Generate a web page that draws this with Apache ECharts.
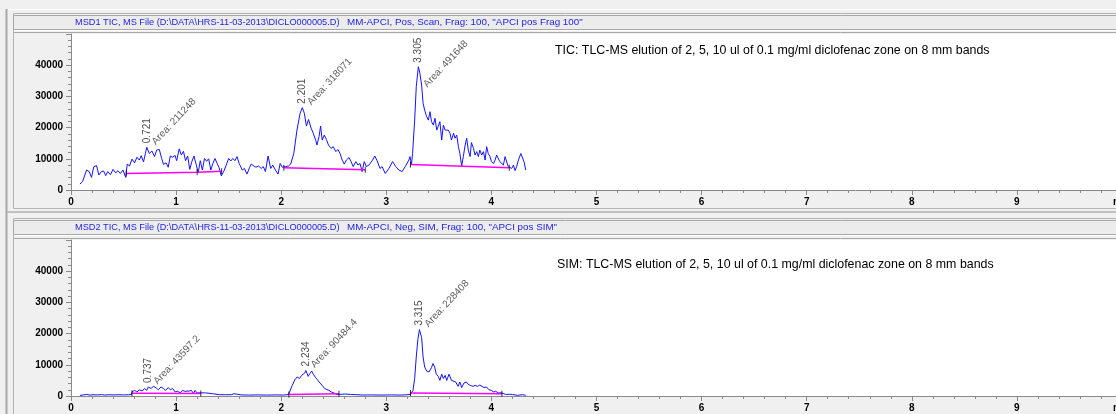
<!DOCTYPE html>
<html><head><meta charset="utf-8">
<script src="https://cdn.jsdelivr.net/npm/echarts@6/dist/echarts.min.js"></script>
<style>html,body{margin:0;padding:0;background:#f0f0f0;overflow:hidden;} #c{width:1116px;height:414px;}</style>
</head><body><div id="c"></div>
<script>
// ---------- DATA ----------
const xTickLabels = ['0','1','2','3','4','5','6','7','8','9','min'];
const yTickLabels = ['0','10000','20000','30000','40000'];

const ticTime = [0.085,0.11,0.148,0.173,0.195,0.217,0.243,0.265,0.29,0.31,0.33,0.35,0.375,0.40,0.425,0.447,0.47,0.495,0.52,0.535,0.557,0.58,0.605,0.627,0.65,0.668,0.69,0.708,0.721,0.745,0.77,0.795,0.815,0.84,0.863,0.88,0.905,0.925,0.945,0.967,0.99,1.005,1.03,1.05,1.07,1.09,1.11,1.13,1.15,1.17,1.19,1.21,1.23,1.25,1.27,1.29,1.31,1.33,1.35,1.37,1.39,1.41,1.43,1.455,1.477,1.50,1.52,1.54,1.56,1.58,1.60,1.63,1.65,1.675,1.70,1.715,1.74,1.76,1.785,1.81,1.83,1.85,1.875,1.90,1.92,1.945,1.97,1.99,2.01,2.04,2.07,2.09,2.12,2.15,2.18,2.201,2.22,2.24,2.26,2.285,2.305,2.33,2.34,2.36,2.375,2.39,2.41,2.43,2.45,2.475,2.495,2.52,2.54,2.56,2.58,2.60,2.62,2.645,2.665,2.685,2.71,2.73,2.75,2.77,2.79,2.81,2.835,2.87,2.89,2.91,2.94,2.96,2.99,3.025,3.06,3.09,3.12,3.15,3.18,3.215,3.225,3.24,3.25,3.27,3.285,3.305,3.32,3.336,3.35,3.365,3.384,3.40,3.416,3.43,3.448,3.463,3.48,3.495,3.51,3.527,3.543,3.56,3.575,3.59,3.606,3.62,3.64,3.654,3.67,3.686,3.70,3.717,3.733,3.75,3.765,3.78,3.797,3.81,3.83,3.844,3.86,3.876,3.89,3.908,3.924,3.94,3.955,3.97,3.987,4.00,4.02,4.035,4.05,4.067,4.08,4.098,4.114,4.13,4.146,4.16,4.178,4.194,4.21,4.225,4.24,4.257,4.28,4.295,4.31,4.327];
const ticIntensity = [1900,2700,6400,5900,4050,7500,7800,4800,5900,6100,4600,5900,4900,6600,5500,6200,5300,6400,4050,8300,7700,9900,8700,10500,9600,11000,9000,11700,13700,11700,12500,10700,12800,13000,10100,8200,8700,7300,10900,10500,11100,9400,13200,11200,12400,9400,10900,6600,9100,10900,8300,5500,9400,6400,10100,9200,10000,6400,8500,10100,8500,7100,4500,6100,8000,10100,9300,10100,9400,10700,8500,6400,6900,5100,7300,8300,7700,7300,7700,6900,7500,5900,10900,6900,8000,6400,5100,8500,7300,7500,7700,8300,11700,19200,24600,26400,24600,20500,22600,19800,18200,15800,14400,17100,20500,16000,17600,16200,14400,13300,13900,12300,13000,11700,9600,8300,9600,10400,9100,7500,9100,8000,8500,5900,9100,7500,8000,9600,10900,9600,6900,7500,5300,6900,9100,7500,6400,5900,7500,9600,10700,8300,11700,22400,33100,39500,37400,33600,27800,25600,23500,22400,25100,21900,20800,23000,19200,19200,21900,16000,20800,19200,18700,19200,18200,16000,18200,16600,17600,13900,11700,7700,10700,14400,16600,12800,10700,15200,13300,11200,12300,10700,12800,11200,12300,9600,13900,11700,10700,9100,8500,9600,11200,10700,9100,9600,8000,10700,10100,7500,7700,6900,8000,6200,7500,9600,11700,11200,9100,6400];

const simTime = [0.085,0.10,0.12,0.15,0.18,0.21,0.25,0.29,0.32,0.36,0.40,0.45,0.50,0.55,0.575,0.58,0.605,0.627,0.65,0.677,0.70,0.72,0.737,0.76,0.785,0.81,0.83,0.857,0.88,0.90,0.926,0.945,0.967,0.99,1.014,1.04,1.06,1.083,1.10,1.124,1.146,1.165,1.18,1.20,1.235,1.28,1.345,1.41,1.47,1.53,1.55,1.565,1.62,1.70,1.78,1.86,1.95,2.02,2.07,2.105,2.13,2.152,2.175,2.194,2.21,2.225,2.234,2.257,2.273,2.29,2.305,2.327,2.35,2.368,2.39,2.413,2.43,2.454,2.476,2.50,2.53,2.57,2.61,2.66,2.71,2.77,2.85,2.95,3.05,3.15,3.23,3.254,3.27,3.285,3.30,3.315,3.336,3.35,3.365,3.384,3.406,3.43,3.444,3.46,3.476,3.495,3.51,3.527,3.543,3.56,3.575,3.597,3.62,3.638,3.66,3.683,3.70,3.717,3.74,3.762,3.78,3.80,3.825,3.845,3.867,3.89,3.908,3.93,3.952,3.977,4.00,4.02,4.04,4.067,4.098,4.136,4.17,4.20,4.248,4.295,4.327];
const simIntensity = [200,450,350,500,300,400,350,450,300,400,350,400,350,400,450,1300,1800,1300,2000,1600,2400,1800,2900,2400,3100,2600,2000,2900,2400,1800,2700,2000,2400,1300,1500,1000,1800,1500,2000,1600,1800,750,1800,1000,1000,1000,750,430,400,430,750,320,350,300,350,300,350,300,500,3400,5200,6100,5600,6600,6100,7400,8200,6300,7200,8000,7000,5900,5000,4200,3400,2400,2700,1800,1300,1000,500,550,640,500,430,320,350,300,350,300,500,1800,5600,12500,18100,21300,18700,12500,9300,8000,7700,9100,10400,9300,7000,6300,5000,7000,5600,6600,5000,7000,5000,4500,4500,3100,4500,2700,4200,4500,3700,3400,3100,3400,3100,3500,3100,2700,2900,2000,1800,1300,1500,1000,1000,500,550,500,200,430,200];

// integration baselines (segments of [time, intensity])
const ticBaselines = [
  [[0.526,5300],[1.2,5700],[1.433,6000]],
  [[2.025,7150],[2.80,6500]],
  [[3.23,8200],[4.17,7150]]
];
const simBaselines = [
  [[0.58,850],[1.235,800]],
  [[2.073,500],[2.55,700]],
  [[3.23,1000],[4.10,750]]
];

// peak annotations
const ticPeakTimes = [0.721, 2.201, 3.305];
const ticPeakHeights = [13700, 26400, 39500];
const ticPeakAreas = ['211248', '318071', '491648'];
const simPeakTimes = [0.737, 2.234, 3.315];
const simPeakHeights = [2900, 8200, 21300];
const simPeakAreas = ['43597.2', '90484.4', '228408'];

const headerFileTexts = [
  'MSD1 TIC, MS File (D:\\DATA\\HRS-11-03-2013\\DICLO000005.D)',
  'MSD2 TIC, MS File (D:\\DATA\\HRS-11-03-2013\\DICLO000005.D)'
];
const headerMethodTexts = [
  'MM-APCI, Pos, Scan, Frag: 100, "APCI pos Frag 100"',
  'MM-APCI, Neg, SIM, Frag: 100, "APCI pos SIM"'
];
const noteTexts = [
  'TIC: TLC-MS elution of 2, 5, 10 ul of 0.1 mg/ml diclofenac zone on 8 mm bands',
  'SIM: TLC-MS elution of 2, 5, 10 ul of 0.1 mg/ml diclofenac zone on 8 mm bands'
];

// ---------- CHART ----------
const FONT = '"Liberation Sans", Arial, sans-serif';
const chart = echarts.init(document.getElementById('c'), null, {renderer: 'canvas'});

function zip(a, b) { return a.map((v, i) => [v, b[i]]); }

const Y_MAX = 50000;
const gridBoxes = [
  {left: 71, top: 34, width: 1051, height: 156},
  {left: 71, top: 240, width: 1051, height: 156}
];
const grids = gridBoxes.map(g => Object.assign({}, g, {
  show: true, backgroundColor: '#ffffff', borderWidth: 0,
  containLabel: false, outerBoundsMode: 'none'
}));

const measureCtx = document.createElement('canvas').getContext('2d');
function textWidth(s, font) { measureCtx.font = font; return measureCtx.measureText(s).width; }

function xAxis(idx) {
  return {
    type: 'value', gridIndex: idx, min: 0, max: 10, interval: 1,
    axisLine: {show: true, onZero: false, lineStyle: {color: '#8a8a8a', width: 1}},
    axisTick: {show: true, length: 5, lineStyle: {color: '#8a8a8a'}},
    minorTick: {show: true, splitNumber: 5, length: 3, lineStyle: {color: '#8a8a8a'}},
    splitLine: {show: false},
    axisLabel: {
      margin: 7, color: '#000', fontSize: 10, fontWeight: 'bold', fontFamily: FONT,
      showMaxLabel: true, hideOverlap: false,
      formatter: v => xTickLabels[Math.round(v)] || ''
    }
  };
}
function yAxis(idx) {
  return {
    type: 'value', gridIndex: idx, min: 0, max: Y_MAX, interval: 10000,
    axisLine: {show: true, lineStyle: {color: '#8a8a8a', width: 1}},
    axisTick: {show: true, length: 5, lineStyle: {color: '#8a8a8a'}},
    minorTick: {show: true, splitNumber: 5, length: 3, lineStyle: {color: '#8a8a8a'}},
    splitLine: {show: false},
    axisLabel: {
      margin: 8, color: '#000', fontSize: 10, fontWeight: 'bold', fontFamily: FONT,
      formatter: v => yTickLabels[Math.round(v / 10000)] || ''
    }
  };
}

const LABEL_FONT = '10px ' + FONT;
const AREA_ROT = 47;
const series = [];
function addPanel(idx, times, vals, baselines, pkT, pkH, pkA) {
  const box = gridBoxes[idx];
  series.push({
    type: 'line', xAxisIndex: idx, yAxisIndex: idx, data: zip(times, vals),
    showSymbol: false, symbol: 'none', silent: true,
    lineStyle: {color: '#1414ff', width: 1}, z: 3
  });
  baselines.forEach(seg => {
    series.push({
      type: 'line', xAxisIndex: idx, yAxisIndex: idx, data: seg,
      showSymbol: false, symbol: 'none', silent: true,
      lineStyle: {color: '#ff00ff', width: 1.5}, z: 4
    });
  });
  // integration event marks
  const marks = [];
  baselines.forEach(seg => seg.forEach(p => marks.push(p)));
  series.push({
    type: 'scatter', xAxisIndex: idx, yAxisIndex: idx, data: marks,
    symbol: 'rect', symbolSize: [1, 6], silent: true,
    itemStyle: {color: '#000'}, z: 5
  });
  // retention time labels
  series.push({
    type: 'scatter', xAxisIndex: idx, yAxisIndex: idx,
    data: pkT.map((t, i) => ({value: [t, pkH[i]]})),
    symbol: 'circle', symbolSize: 2, silent: true,
    itemStyle: {color: 'rgba(0,0,0,0)'}, z: 6,
    label: {
      show: true, position: [1, -3], rotate: 90, align: 'left', verticalAlign: 'middle',
      formatter: p => String(pkT[p.dataIndex]), color: '#1a1a1a', fontSize: 10, fontFamily: FONT
    }
  });
  // area labels: kept inside the plot frame (shifted down if they would overflow the top)
  series.push({
    type: 'scatter', xAxisIndex: idx, yAxisIndex: idx,
    data: pkT.map((t, i) => {
      const txt = 'Area: ' + pkA[i];
      const rise = textWidth(txt, LABEL_FONT) * Math.sin(AREA_ROT * Math.PI / 180) + 4;
      const peakY = box.top + box.height * (1 - pkH[i] / Y_MAX);
      const startY = peakY - 4;
      const shift = Math.max(0, (box.top + 4) - (startY - rise));
      return {value: [t, pkH[i]], label: {position: [8, -3 + shift]}};
    }),
    symbol: 'circle', symbolSize: 2, silent: true,
    itemStyle: {color: 'rgba(0,0,0,0)'}, z: 6,
    label: {
      show: true, rotate: AREA_ROT, align: 'left', verticalAlign: 'middle',
      formatter: p => 'Area: ' + pkA[p.dataIndex], color: '#333', fontSize: 10, fontFamily: FONT
    }
  });
}
addPanel(0, ticTime, ticIntensity, ticBaselines, ticPeakTimes, ticPeakHeights, ticPeakAreas);
addPanel(1, simTime, simIntensity, simBaselines, simPeakTimes, simPeakHeights, simPeakAreas);

const deco = [
  {type: 'line', shape: {x1: 6.5, y1: 9, x2: 6.5, y2: 414}, style: {stroke: '#a8a8a8', lineWidth: 2}},
  {type: 'line', shape: {x1: 8, y1: 9.5, x2: 1116, y2: 9.5}, style: {stroke: '#ffffff', lineWidth: 1}},
  // panel 1
  {type: 'rect', shape: {x: 13.5, y: 13.5, width: 1110, height: 195}, style: {fill: '#f0f0f0', stroke: '#b4b4b4', lineWidth: 1}},
  {type: 'rect', shape: {x: 13.5, y: 15.5, width: 1110, height: 14}, style: {fill: '#ececec', stroke: '#a8a8a8', lineWidth: 1}},
  {type: 'line', shape: {x1: 14, y1: 30.5, x2: 1116, y2: 30.5}, style: {stroke: '#ffffff', lineWidth: 1}},
  {type: 'line', shape: {x1: 14, y1: 32.5, x2: 1116, y2: 32.5}, style: {stroke: '#a8a8a8', lineWidth: 1}},
  // separator
  {type: 'line', shape: {x1: 7, y1: 212, x2: 1116, y2: 212}, style: {stroke: '#c0c0c0', lineWidth: 2}},
  // panel 2
  {type: 'rect', shape: {x: 13.5, y: 218.5, width: 1110, height: 210}, style: {fill: '#f0f0f0', stroke: '#b4b4b4', lineWidth: 1}},
  {type: 'rect', shape: {x: 13.5, y: 220.5, width: 1110, height: 14}, style: {fill: '#ececec', stroke: '#a8a8a8', lineWidth: 1}},
  {type: 'line', shape: {x1: 14, y1: 235.5, x2: 1116, y2: 235.5}, style: {stroke: '#ffffff', lineWidth: 1}},
  {type: 'line', shape: {x1: 14, y1: 238.5, x2: 1116, y2: 238.5}, style: {stroke: '#a8a8a8', lineWidth: 1}}
].map(e => Object.assign(e, {z: -10, silent: true}));

const headerFont1 = '9.2px ' + FONT;
const headerFont2 = '9.8px ' + FONT;
const texts = [
  {type: 'text', x: 75, y: 22.5, style: {text: headerFileTexts[0], fill: '#2424e0', font: headerFont1, textVerticalAlign: 'middle'}},
  {type: 'text', x: 347, y: 22.5, style: {text: headerMethodTexts[0], fill: '#2424e0', font: headerFont2, textVerticalAlign: 'middle'}},
  {type: 'text', x: 75, y: 227.5, style: {text: headerFileTexts[1], fill: '#2424e0', font: headerFont1, textVerticalAlign: 'middle'}},
  {type: 'text', x: 347, y: 227.5, style: {text: headerMethodTexts[1], fill: '#2424e0', font: headerFont2, textVerticalAlign: 'middle'}},
  {type: 'text', x: 555, y: 51, style: {text: noteTexts[0], fill: '#000', font: '12.4px ' + FONT, textVerticalAlign: 'middle'}},
  {type: 'text', x: 557, y: 265, style: {text: noteTexts[1], fill: '#000', font: '12.4px ' + FONT, textVerticalAlign: 'middle'}}
].map(e => Object.assign(e, {z: 20, silent: true}));

chart.setOption({
  animation: false,
  backgroundColor: '#f0f0f0',
  grid: grids,
  xAxis: [xAxis(0), xAxis(1)],
  yAxis: [yAxis(0), yAxis(1)],
  series: series,
  graphic: {elements: deco.concat(texts)}
});
</script>
</body></html>
